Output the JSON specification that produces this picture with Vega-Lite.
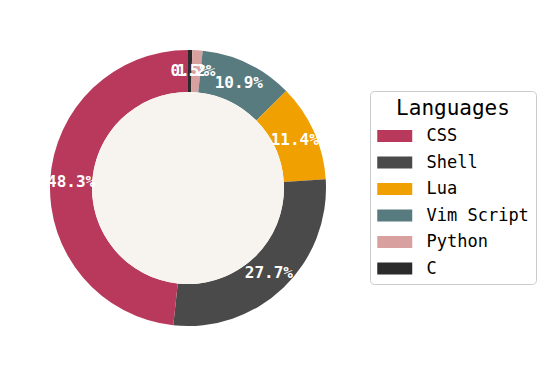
{
  "$schema": "https://vega.github.io/schema/vega-lite/v6.json",
  "width": 376,
  "height": 376,
  "autosize": {"type": "none"},
  "padding": {"left": 0, "top": 0, "right": 176, "bottom": 0},
  "background": "white",
  "view": {"stroke": null},
  "config": {"font": "DejaVu Sans Mono"},
  "data": {"values": [
    {"language": "C", "share": 0.005, "idx": 0},
    {"language": "Python", "share": 0.012, "idx": 1},
    {"language": "Vim Script", "share": 0.109, "idx": 2},
    {"language": "Lua", "share": 0.114, "idx": 3},
    {"language": "Shell", "share": 0.277, "idx": 4},
    {"language": "CSS", "share": 0.483, "idx": 5}
  ]},
  "layer": [
    {
      "mark": {"type": "arc", "radius": 138, "innerRadius": 96},
      "encoding": {
        "theta": {"field": "share", "type": "quantitative", "stack": true},
        "order": {"field": "idx", "type": "quantitative"},
        "color": {
          "field": "language", "type": "nominal",
          "scale": {
            "domain": ["CSS", "Shell", "Lua", "Vim Script", "Python", "C"],
            "range": ["#B8395B", "#4A4A4A", "#F0A000", "#587B7F", "#D9A0A0", "#2B2B2B"]
          },
          "legend": {
            "title": "Languages",
            "orient": "none",
            "legendX": 370,
            "legendY": 91,
            "padding": 7,
            "strokeColor": "#CCCCCC",
            "fillColor": "white",
            "cornerRadius": 4,
            "titleFont": "DejaVu Sans Mono",
            "titleFontSize": 21,
            "titleFontWeight": "normal",
            "titleColor": "black",
            "titleAnchor": "middle",
            "titlePadding": 8,
            "labelFont": "DejaVu Sans Mono",
            "labelFontSize": 17,
            "labelColor": "black",
            "labelOffset": 22.75,
            "symbolOffset": 8.75,
            "rowPadding": 9.5,
            "symbolType": "M-2,-0.68H2V0.68H-2Z",
            "symbolSize": 306,
            "symbolStrokeWidth": 0,
            "symbolOpacity": 1
          }
        }
      }
    },
    {
      "data": {"values": [{"x": 1}]},
      "mark": {"type": "arc", "radius": 96, "theta": 0, "theta2": 6.2832, "fill": "#F7F4EF"},
      "encoding": {}
    },
    {
      "mark": {"type": "text", "radius": 117, "color": "white", "fontWeight": "bold", "fontSize": 16, "font": "DejaVu Sans Mono"},
      "encoding": {
        "theta": {"field": "share", "type": "quantitative", "stack": true},
        "order": {"field": "idx", "type": "quantitative"},
        "text": {"field": "share", "type": "quantitative", "format": ".1%"}
      }
    }
  ]
}
